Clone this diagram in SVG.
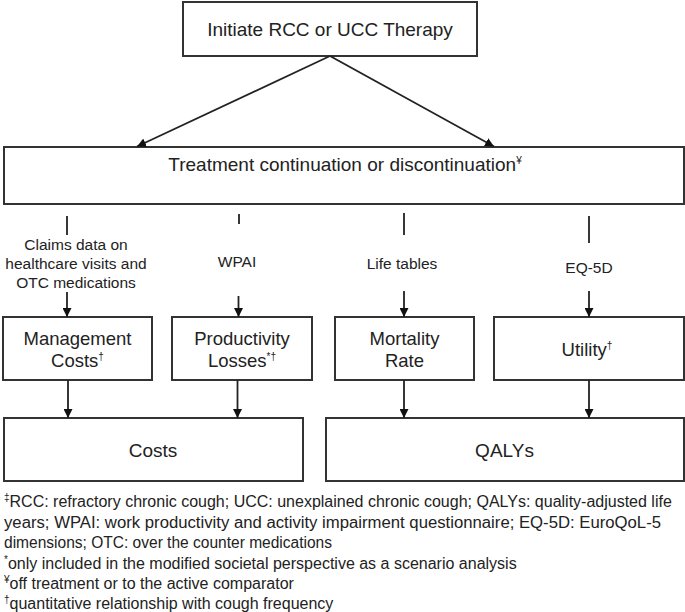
<svg xmlns="http://www.w3.org/2000/svg" width="685" height="612" viewBox="0 0 685 612">
<style>
.box{fill:#fff;stroke:#333;stroke-width:2}
.t{font-family:"Liberation Sans",Arial,sans-serif;fill:#222;text-anchor:middle}
.big{font-size:19px}
.mid{font-size:18.5px}
.lab{font-size:15.5px}
.fn{font-family:"Liberation Sans",Arial,sans-serif;fill:#222;font-size:16px}
.sup{font-size:10px}
.c line{stroke:#222;stroke-width:1.8;fill:none}
</style>
<defs>
<marker id="ah" viewBox="0 0 10 10" refX="10" refY="5" markerUnits="userSpaceOnUse" markerWidth="9" markerHeight="9" orient="auto">
<path d="M0,0 L10,5 L0,10 z" fill="#111"/>
</marker>
</defs>
<rect width="685" height="612" fill="#fff"/>
<g id="initiate">
<rect class="box" x="183" y="2" width="294" height="54"/>
<text class="t big" x="330" y="36">Initiate RCC or UCC Therapy</text>
</g>
<g id="treatment">
<rect class="box" x="4" y="147" width="680" height="57"/>
<text class="t big" x="345" y="170.5">Treatment continuation or discontinuation<tspan class="sup" dy="-7">¥</tspan></text>
</g>
<g id="claims">
<text class="t lab" x="76" y="250">Claims data on</text>
<text class="t lab" x="76" y="269">healthcare visits and</text>
<text class="t lab" x="76" y="288">OTC medications</text>
</g>
<g id="wpai"><text class="t lab" x="237" y="267">WPAI</text></g>
<g id="lifetables"><text class="t lab" x="402" y="268.5">Life tables</text></g>
<g id="eq5d"><text class="t lab" x="589" y="273">EQ-5D</text></g>
<g id="management">
<rect class="box" x="3" y="317" width="149" height="63"/>
<text class="t mid" x="77.5" y="344.5">Management</text>
<text class="t mid" x="77.5" y="367">Costs<tspan class="sup" dy="-7">†</tspan></text>
</g>
<g id="productivity">
<rect class="box" x="172" y="317" width="140" height="63"/>
<text class="t mid" x="242" y="344.5">Productivity</text>
<text class="t mid" x="242" y="367">Losses<tspan class="sup" dy="-7">*†</tspan></text>
</g>
<g id="mortality">
<rect class="box" x="335" y="317" width="139" height="63"/>
<text class="t mid" x="404.5" y="344.5">Mortality</text>
<text class="t mid" x="404.5" y="367">Rate</text>
</g>
<g id="utility">
<rect class="box" x="494" y="317" width="190" height="63"/>
<text class="t mid" x="587" y="356">Utility<tspan class="sup" dy="-7">†</tspan></text>
</g>
<g id="costs">
<rect class="box" x="4" y="418" width="299" height="63"/>
<text class="t big" x="153" y="457">Costs</text>
</g>
<g id="qalys">
<rect class="box" x="326" y="418" width="358" height="63"/>
<text class="t big" x="504.5" y="457">QALYs</text>
</g>
<g id="connectors" class="c">
<line x1="330" y1="56" x2="137" y2="146.5" marker-end="url(#ah)"/>
<line x1="330" y1="56" x2="494" y2="146.5" marker-end="url(#ah)"/>
<line x1="67" y1="216" x2="67" y2="235"/>
<line x1="239" y1="214" x2="239" y2="224"/>
<line x1="404" y1="213" x2="404" y2="235"/>
<line x1="589" y1="216" x2="589" y2="243"/>
<line x1="67" y1="292" x2="67" y2="317" marker-end="url(#ah)"/>
<line x1="238.5" y1="296" x2="238.5" y2="317" marker-end="url(#ah)"/>
<line x1="404" y1="291" x2="404" y2="317" marker-end="url(#ah)"/>
<line x1="589" y1="291" x2="589" y2="317" marker-end="url(#ah)"/>
<line x1="68" y1="380" x2="68" y2="418" marker-end="url(#ah)"/>
<line x1="237.5" y1="380" x2="237.5" y2="418" marker-end="url(#ah)"/>
<line x1="404" y1="380" x2="404" y2="418" marker-end="url(#ah)"/>
<line x1="589" y1="380" x2="589" y2="418" marker-end="url(#ah)"/>
</g>
<g id="footnotes">
<text class="fn" x="4" y="507"><tspan class="sup" dy="-6">‡</tspan><tspan dy="6">RCC: refractory chronic cough; UCC: unexplained chronic cough; QALYs: quality-adjusted life</tspan></text>
<text class="fn" x="4" y="527.5" textLength="657" lengthAdjust="spacingAndGlyphs">years; WPAI: work productivity and activity impairment questionnaire; EQ-5D: EuroQoL-5</text>
<text class="fn" x="4" y="548" textLength="328" lengthAdjust="spacingAndGlyphs">dimensions; OTC: over the counter medications</text>
<text class="fn" x="4" y="568.5"><tspan class="sup" dy="-6">*</tspan><tspan dy="6">only included in the modified societal perspective as a scenario analysis</tspan></text>
<text class="fn" x="4" y="589"><tspan class="sup" dy="-6">¥</tspan><tspan dy="6">off treatment or to the active comparator</tspan></text>
<text class="fn" x="4" y="609"><tspan class="sup" dy="-6">†</tspan><tspan dy="6">quantitative relationship with cough frequency</tspan></text>
</g>
</svg>
